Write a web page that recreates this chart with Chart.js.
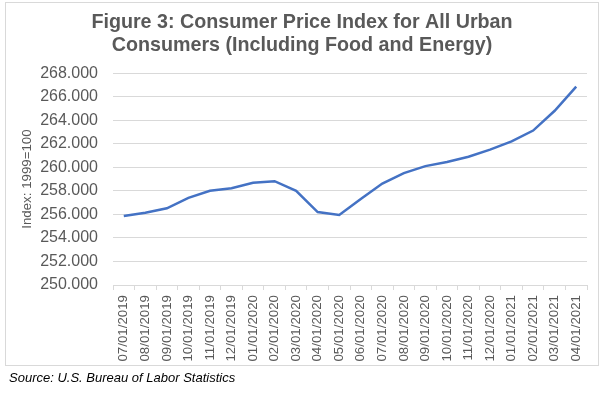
<!DOCTYPE html>
<html lang="en">
<head>
  <meta charset="UTF-8">
  <title>Figure 3: CPI-U</title>
  <style>
    body {
      margin: 0;
      background: #fff;
      font-family: 'Liberation Sans', Arial, sans-serif;
    }
    .frame {
      position: absolute;
      left: 5px;
      top: 2px;
      width: 592px;
      height: 362px;
      border: 1px solid #d9d9d9;
    }
    .wrap {
      position: absolute;
      left: 0;
      top: 0;
      width: 600px;
      height: 393px;
    }
    .source {
      position: absolute;
      left: 9px;
      top: 370px;
      font-size: 13px;
      font-style: italic;
      color: #000;
    }
  </style>
  <script src="https://cdn.jsdelivr.net/npm/chart.js"></script>
</head>
<body>
  <div class="frame"></div>
  <div class="wrap">
    <canvas id="myChart" width="600" height="393"></canvas>
  </div>
  <div class="source">Source: U.S. Bureau of Labor Statistics</div>

  <script>
    // months shown on the x axis
    const months = [
      '07/01/2019', '08/01/2019', '09/01/2019', '10/01/2019', '11/01/2019', '12/01/2019',
      '01/01/2020', '02/01/2020', '03/01/2020', '04/01/2020', '05/01/2020', '06/01/2020',
      '07/01/2020', '08/01/2020', '09/01/2020', '10/01/2020', '11/01/2020', '12/01/2020',
      '01/01/2021', '02/01/2021', '03/01/2021', '04/01/2021'
    ];
    // index values
    const cpiValues = [
      255.86, 256.14, 256.52, 257.40, 258.00, 258.22,
      258.68, 258.82, 258.00, 256.20, 255.95, 257.30,
      258.62, 259.50, 260.10, 260.45, 260.90, 261.50,
      262.20, 263.12, 264.80, 266.85
    ];
    const yMin = 250;
    const yMax = 268;
    const yStep = 2;

    const grey = '#595959';
    const gridGrey = '#d9d9d9';
    const fontName = "'Liberation Sans', Arial, sans-serif";

    const ctx = document.getElementById('myChart').getContext('2d');
    new Chart(ctx, {
      type: 'line',
      data: {
        labels: months,
        datasets: [{
          label: 'CPI-U',
          data: cpiValues,
          borderColor: '#4472C4',
          borderWidth: 2.5,
          pointRadius: 0,
          fill: false,
          tension: 0
        }]
      },
      options: {
        responsive: false,
        animation: false,
        layout: {
          // left padding also pushes the title centre to match the original
          padding: { left: 17, right: 13, top: 3, bottom: 28 }
        },
        plugins: {
          legend: { display: false },
          tooltip: { enabled: false },
          title: {
            display: true,
            text: ['Figure 3: Consumer Price Index for All Urban', 'Consumers (Including Food and Energy)'],
            color: grey,
            font: { family: fontName, size: 19.7, weight: 'bold', lineHeight: 1.12 },
            padding: { top: 9, bottom: 17 }
          }
        },
        scales: {
          x: {
            offset: true,
            grid: {
              display: true,
              drawOnChartArea: false,
              drawTicks: true,
              tickLength: 5,
              offset: true,
              color: gridGrey
            },
            border: { display: true, color: gridGrey },
            ticks: {
              color: grey,
              font: { family: fontName, size: 13.3 },
              minRotation: 90,
              maxRotation: 90,
              autoSkip: false,
              padding: 5
            },
            afterFit: function(scale) { scale.height = 80; }
          },
          y: {
            min: yMin,
            max: yMax,
            grid: { color: gridGrey, drawTicks: false },
            border: { display: false },
            ticks: {
              stepSize: yStep,
              color: grey,
              font: { family: fontName, size: 16 },
              padding: 15,
              callback: function(v) { return v.toFixed(3); }
            },
            title: {
              display: true,
              text: 'Index: 1999=100',
              color: grey,
              font: { family: fontName, size: 13.3 },
              padding: { top: 2, bottom: 0 }
            },
            afterFit: function(scale) { scale.width = 96; }
          }
        }
      }
    });
  </script>
</body>
</html>
